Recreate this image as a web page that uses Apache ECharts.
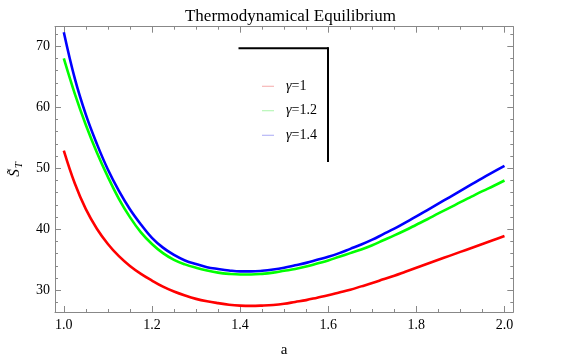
<!DOCTYPE html>
<html><head><meta charset="utf-8">
<script src="https://cdn.jsdelivr.net/npm/echarts@6/dist/echarts.min.js"></script>
<style>html,body{margin:0;padding:0;background:#fff}#c{width:581px;height:363px}</style>
</head><body><div id="c"></div>
<script>
var aVals   = [1.0,1.025,1.05,1.075,1.1,1.125,1.15,1.175,1.2,1.225,1.25,1.275,1.3,1.325,1.35,1.375,1.4,1.425,1.45,1.475,1.5,1.525,1.55,1.575,1.6,1.625,1.65,1.675,1.7,1.725,1.75,1.775,1.8,1.825,1.85,1.875,1.9,1.925,1.95,1.975,2.0];
var gamma1  = [52.9,47.5,43.3,40.1,37.6,35.6,34.0,32.7,31.6,30.6,29.8,29.15,28.6,28.2,27.9,27.65,27.5,27.45,27.5,27.6,27.8,28.1,28.4,28.8,29.2,29.65,30.1,30.65,31.2,31.8,32.4,33.05,33.7,34.35,35.0,35.65,36.3,36.95,37.6,38.25,38.9];
var gamma12 = [68.0,62.2,57.1,52.6,48.6,45.0,42.0,39.5,37.6,36.1,35.0,34.25,33.7,33.25,32.9,32.7,32.6,32.6,32.7,32.9,33.2,33.5,33.9,34.4,34.9,35.5,36.1,36.7,37.4,38.2,39.0,39.85,40.75,41.65,42.6,43.5,44.45,45.35,46.25,47.1,48.0];
var gamma14 = [72.3,64.7,58.8,54.0,49.8,46.3,43.3,40.8,38.6,37.0,35.8,34.9,34.3,33.8,33.5,33.25,33.1,33.1,33.2,33.4,33.7,34.1,34.5,35.0,35.5,36.1,36.8,37.5,38.3,39.2,40.1,41.1,42.1,43.15,44.2,45.25,46.3,47.35,48.4,49.4,50.4];
var xMajor = [1.0,1.2,1.4,1.6,1.8,2.0];
var xMinor = [1.0,1.05,1.1,1.15,1.2,1.25,1.3,1.35,1.4,1.45,1.5,1.55,1.6,1.65,1.7,1.75,1.8,1.85,1.9,1.95,2.0];
var yMajor = [30,40,50,60,70];
var yMinor = [28,30,32,34,36,38,40,42,44,46,48,50,52,54,56,58,60,62,64,66,68,70,72];
var names = ['γ=1','γ=1.2','γ=1.4'];

var X0 = 0.98, X1 = 2.02, Y0 = 26.45, Y1 = 73.2;
var frame = '#888';
var font = 'Liberation Serif';
function pairs(v){ return aVals.map(function(a,i){ return [a, v[i]]; }); }
function xAx(pos, major, label){
  return {type:'value', min:X0, max:X1, position:pos,
    axisLine:{show:major, lineStyle:{color:frame, width:1}},
    axisTick:{show:true, inside:true, length: major?6:3, customValues: major?xMajor:xMinor, lineStyle:{color:frame}},
    axisLabel:{show:label, customValues:xMajor, formatter:function(v){return v.toFixed(1);}, color:'#000', fontFamily:font, fontSize:14, margin:6},
    splitLine:{show:false}};
}
function yAx(pos, major, label){
  return {type:'value', min:Y0, max:Y1, position:pos,
    axisLine:{show:major, lineStyle:{color:frame, width:1}},
    axisTick:{show:true, inside:true, length: major?6:3, customValues: major?yMajor:yMinor, lineStyle:{color:frame}},
    axisLabel:{show:label, customValues:yMajor, formatter:function(v){return String(v);}, color:'#000', fontFamily:font, fontSize:14, margin:5},
    splitLine:{show:false}};
}
var xs = [xAx('bottom',true,true), xAx('bottom',false,false), xAx('top',true,false), xAx('top',false,false)];
xs[0].name = 'a'; xs[0].nameLocation = 'middle'; xs[0].nameGap = 31;
xs[0].nameTextStyle = {color:'#000', fontFamily:font, fontSize:15};
var ys = [yAx('left',true,true), yAx('left',false,false), yAx('right',true,false), yAx('right',false,false)];
ys[0].name = '{s|S\u0303}{t|T}'; ys[0].nameLocation = 'middle'; ys[0].nameGap = 30; ys[0].nameRotate = 90;
ys[0].nameTextStyle = {color:'#000', fontFamily:font, fontSize:15,
  rich:{s:{fontFamily:font, fontSize:15, fontStyle:'italic', color:'#000'}, t:{fontFamily:font, fontSize:11, fontStyle:'italic', color:'#000', padding:[8,0,0,1]}}};

var colors = ['#ff0000','#00ff00','#0000ff'];
var faded = ['#f4a8a8','#a8f4a8','#a8a8f4'];
var data = [gamma1, gamma12, gamma14];

var chart = echarts.init(document.getElementById('c'), null, {renderer:'canvas'});
chart.setOption({
  animation:false,
  backgroundColor:'#fff',
  title:{text:'Thermodynamical Equilibrium', left:'center', top:3, textStyle:{fontFamily:font, fontWeight:'normal', fontSize:17, color:'#000'}},
  grid:{left:52.5, right:67.7, top:26.7, bottom:51, containLabel:false},
  xAxis: xs,
  yAxis: ys,
  legend:{orient:'vertical', left:257, top:74, itemWidth:12, itemHeight:1, itemGap:10, icon:'rect', selectedMode:false,
    data: names.map(function(n,i){ return {name:n, itemStyle:{color:faded[i]}}; }),
    formatter:function(n){ return '{g|γ}{n|' + n.slice(1) + '}'; },
    textStyle:{fontFamily:font, fontSize:14, color:'#000', padding:[0,0,0,7], lineHeight:14.5,
      rich:{g:{fontFamily:font, fontSize:14, fontStyle:'italic', color:'#000'}, n:{fontFamily:font, fontSize:14, color:'#000'}}}},
  graphic:[
    {type:'line', shape:{x1:238.5, y1:48.3, x2:328.5, y2:48.3}, style:{stroke:'#000', lineWidth:2}},
    {type:'line', shape:{x1:328, y1:47.3, x2:328, y2:162}, style:{stroke:'#000', lineWidth:2}}
  ],
  series: names.map(function(n,i){
    return {name:n, type:'line', xAxisIndex:0, yAxisIndex:0, data:pairs(data[i]), smooth:0.4, showSymbol:false, symbol:'none',
      lineStyle:{color:colors[i], width:2.6}, itemStyle:{color:colors[i]}, z:5-i};
  })
});
</script></body></html>
